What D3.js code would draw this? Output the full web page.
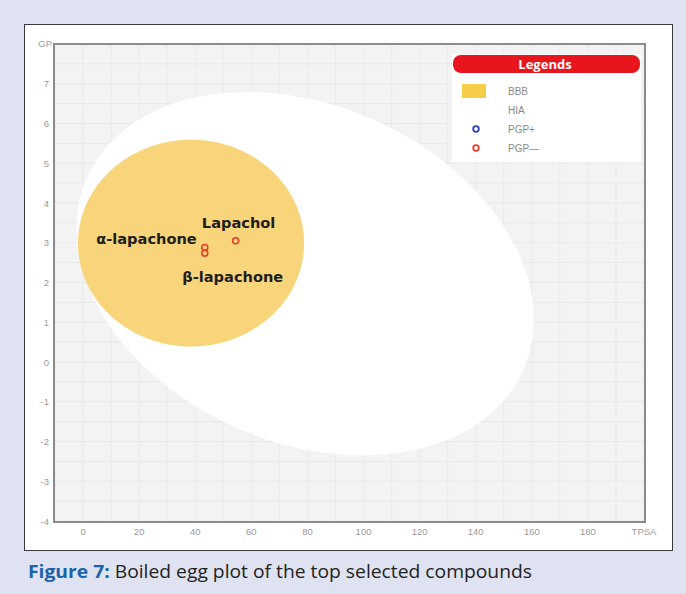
<!DOCTYPE html>
<html>
<head>
<meta charset="utf-8">
<script src="https://cdn.jsdelivr.net/npm/d3@7"></script>
<style>
  html, body { margin: 0; padding: 0; background: #dfe3f1; }
  svg { display: block; }
</style>
</head>
<body>
<svg id="chart" width="686" height="594"></svg>
<script>
// Compounds placed on the BOILED-Egg (TPSA vs WLOGP)
const compounds = ["α-lapachone", "β-lapachone", "Lapachol"];
const tpsa = [43.4, 43.4, 54.4];
const wlogp = [2.88, 2.74, 3.05];
const pgpStatus = ["PGP-", "PGP-", "PGP-"];

// Axis ticks
const xTicks = [0, 20, 40, 60, 80, 100, 120, 140, 160, 180];
const yTicks = [-4, -3, -2, -1, 0, 1, 2, 3, 4, 5, 6, 7];

// Egg regions in data units: centre, semi-major vector, semi-minor vector
const regionNames = ["HIA", "BBB"];
const regionCentre = [[79.2, 2.22], [38.5, 2.99]];
const regionMajor = [[78.5, -2.3], [40.3, 0]];
const regionMinor = [[-22.0, -3.95], [0, 2.6]];
const regionFill = ["#ffffff", "#f8d47a"];

// Legend entries
const legendLabels = ["BBB", "HIA", "PGP+", "PGP—"];

const svg = d3.select("#chart");

// Figure panel
svg.append("rect").attr("x", 24.5).attr("y", 24.5).attr("width", 648).attr("height", 526)
  .attr("fill", "#ffffff").attr("stroke", "#3a3a3a").attr("stroke-width", 1);

const x = d3.scaleLinear().domain([-10, 200]).range([55, 644]);
const y = d3.scaleLinear().domain([-4, 8]).range([521, 44]);

const defs = svg.append("defs");
defs.append("clipPath").attr("id", "plotClip")
  .append("rect").attr("x", 55).attr("y", 44).attr("width", 589).attr("height", 477);
defs.append("filter").attr("id", "soft")
  .append("feGaussianBlur").attr("stdDeviation", 0.6);

// Plot background
svg.append("rect").attr("x", 55).attr("y", 44).attr("width", 589).attr("height", 477)
  .attr("fill", "#f3f3f3");

// Grid
const grid = svg.append("g").attr("clip-path", "url(#plotClip)");
grid.selectAll("line.gx").data(d3.range(-10, 201, 10)).join("line")
  .attr("class", "gx")
  .attr("x1", d => x(d)).attr("x2", d => x(d))
  .attr("y1", 44).attr("y2", 521)
  .attr("stroke", "#e9e9e9").attr("stroke-width", 1);
grid.selectAll("line.gy").data(d3.range(-4, 8.01, 0.5)).join("line")
  .attr("class", "gy")
  .attr("y1", d => y(d)).attr("y2", d => y(d))
  .attr("x1", 55).attr("x2", 644)
  .attr("stroke", "#e9e9e9").attr("stroke-width", 1);

// Egg white and yolk
const line = d3.line().x(d => x(d[0])).y(d => y(d[1])).curve(d3.curveLinearClosed);
const eggLayer = svg.append("g").attr("clip-path", "url(#plotClip)");
regionNames.forEach((name, i) => {
  const c = regionCentre[i], a = regionMajor[i], b = regionMinor[i];
  const pts = d3.range(0, 360, 2).map(deg => {
    const t = deg * Math.PI / 180;
    return [c[0] + a[0] * Math.cos(t) + b[0] * Math.sin(t),
            c[1] + a[1] * Math.cos(t) + b[1] * Math.sin(t)];
  });
  eggLayer.append("path").datum(pts).attr("d", line)
    .attr("fill", regionFill[i]).attr("filter", "url(#soft)");
});

// Plot frame
svg.append("rect").attr("x", 54).attr("y", 44).attr("width", 591).attr("height", 478)
  .attr("fill", "none").attr("stroke", "#8c8c8c").attr("stroke-width", 2);

// Tick labels
const tickFont = "'Liberation Sans', Arial, sans-serif";
svg.append("g").selectAll("text").data(xTicks).join("text")
  .attr("x", d => x(d)).attr("y", 535)
  .attr("text-anchor", "middle").attr("font-family", tickFont).attr("font-size", 9.5)
  .attr("fill", "#9a9a9a").text(d => d);
svg.append("text").attr("x", 644).attr("y", 535).attr("text-anchor", "middle")
  .attr("font-family", tickFont).attr("font-size", 9.5).attr("fill", "#9a9a9a").text("TPSA");
svg.append("g").selectAll("text").data(yTicks).join("text")
  .attr("x", 49).attr("y", d => y(d) + 3.5)
  .attr("text-anchor", "end").attr("font-family", tickFont).attr("font-size", 9.5)
  .attr("fill", "#9a9a9a").text(d => d);
defs.append("clipPath").attr("id", "yTitleClip")
  .append("rect").attr("x", 38).attr("y", 34).attr("width", 15).attr("height", 16);
svg.append("text").attr("x", 52).attr("y", 47).attr("text-anchor", "end")
  .attr("clip-path", "url(#yTitleClip)")
  .attr("font-family", tickFont).attr("font-size", 9.5).attr("fill", "#9a9a9a").text("WLOGP");

// Legend
const lg = svg.append("g");
lg.append("rect").attr("x", 452).attr("y", 54).attr("width", 189).attr("height", 108).attr("fill", "#ffffff");
lg.append("rect").attr("x", 453).attr("y", 55).attr("width", 187).attr("height", 18).attr("rx", 8)
  .attr("fill", "#e8161c");
lg.append("text").attr("x", 545).attr("y", 69).attr("text-anchor", "middle")
  .attr("font-family", "'Open Sans', 'Noto Sans', sans-serif").attr("font-weight", "bold")
  .attr("font-size", 13).attr("fill", "#ffffff").text("Legends");
const ly = d3.scalePoint().domain(legendLabels).range([91, 148]);
lg.append("rect").attr("x", 462).attr("y", ly("BBB") - 7).attr("width", 24).attr("height", 14)
  .attr("fill", "#f6cc48").attr("filter", "url(#soft)");
lg.append("rect").attr("x", 462).attr("y", ly("HIA") - 7).attr("width", 24).attr("height", 14)
  .attr("fill", "#ffffff");
lg.append("circle").attr("cx", 476).attr("cy", ly("PGP+")).attr("r", 2.8)
  .attr("fill", "none").attr("stroke", "#2a3fb0").attr("stroke-width", 1.8);
lg.append("circle").attr("cx", 476).attr("cy", ly("PGP—")).attr("r", 2.8)
  .attr("fill", "none").attr("stroke", "#e2402a").attr("stroke-width", 1.8);
lg.selectAll("text.item").data(legendLabels).join("text")
  .attr("class", "item").attr("x", 508).attr("y", d => ly(d) + 3.5)
  .attr("font-family", tickFont).attr("font-size", 10).attr("fill", "#8a8a8a").text(d => d);

// Compound markers
svg.append("g").selectAll("circle").data(compounds).join("circle")
  .attr("cx", (d, i) => x(tpsa[i])).attr("cy", (d, i) => y(wlogp[i])).attr("r", 3)
  .attr("fill", "none")
  .attr("stroke", (d, i) => pgpStatus[i] === "PGP-" ? "#e2402a" : "#2a3fb0")
  .attr("stroke-width", 1.6);

// Compound labels
const labelAnchor = ["end", "middle", "middle"];
const labelDx = [-8, 28, 3];
const labelDy = [-4, 29, -13];
svg.append("g").selectAll("text").data(compounds).join("text")
  .attr("x", (d, i) => x(tpsa[i]) + labelDx[i])
  .attr("y", (d, i) => y(wlogp[i]) + labelDy[i])
  .attr("text-anchor", (d, i) => labelAnchor[i])
  .attr("font-family", "'DejaVu Sans', Verdana, sans-serif").attr("font-weight", "bold")
  .attr("font-size", 14.6).attr("fill", "#1e1e1e").text(d => d);

// Caption
const cap = svg.append("text").attr("x", 28).attr("y", 578)
  .attr("font-family", "'Open Sans', 'Noto Sans', sans-serif").attr("font-size", 18.5);
cap.append("tspan").attr("font-weight", "bold").attr("fill", "#1b62ad").text("Figure 7:");
cap.append("tspan").attr("fill", "#222222").text(" Boiled egg plot of the top selected compounds");
cap.attr("textLength", 504).attr("lengthAdjust", "spacingAndGlyphs");
</script>
</body>
</html>
